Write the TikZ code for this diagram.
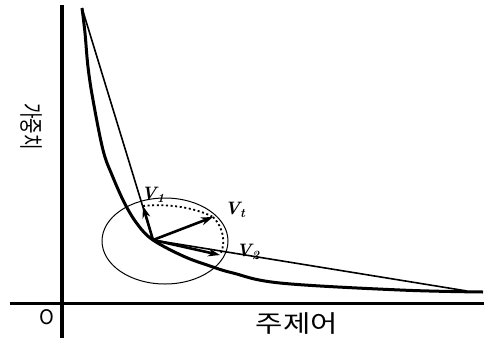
\documentclass[tikz,border=0pt]{standalone}
\usepackage{tikz}
\usetikzlibrary{positioning,arrows.meta}
\usepackage{fontspec}
\newfontfamily\kor{Noto Sans CJK KR}
\tikzset{
	axis/.style={line width=3pt},
	vec/.style={->,line width=2.6pt},
	vlabel/.style={font=\fontsize{18}{18}\selectfont\bfseries\itshape, inner sep=0pt}
}
\newcommand{\vname}[1]{V\textsubscript{#1}}
\begin{document}
\begin{tikzpicture}[>={Stealth[length=12pt,width=8pt]}, x=1pt, y=-1pt]
	\useasboundingbox (0,0) rectangle (487,338);
	% axes
	\coordinate (ytop) at (62,5);
	\coordinate (ybot) at (62,338);
	\coordinate (xl) at (10,303);
	\coordinate (xr) at (484,303);
	\draw[axis, line width=4pt] (ytop) -- (ybot);
	\draw[axis] (xl) -- (xr);
	\node[font=\kor\fontsize{20}{20}\selectfont, inner sep=0pt] (zero) at (46.5,317.5) {O};
	\node[font=\kor\fontsize{24}{24}\selectfont, inner sep=0pt, xscale=1.24] (xname) at (297,324) {주제어};
	\node[font=\kor\fontsize{24}{24}\selectfont, inner sep=0pt, rotate=-90, xscale=0.7] (yname) at (31.5,126.5) {가중치};

	% vectors
	\coordinate (o) at (153,240);
	\coordinate (v1) at (143,206);
	\coordinate (vt) at (213,217);
	\coordinate (v2) at (220,255);
	\coordinate (top) at (82,8);
	\coordinate (end) at (467,291);

	% curves
	\draw[line width=3pt, line join=round] plot[smooth, tension=0.6] coordinates {
		(top) (85,33) (88,67) (93,100) (103,150) (112,175) (125,204)
		(138,225) (153,240) (183,256) (210,266) (233,273) (280,283)
		(400,290) (483,292)};
	\draw[line width=1.6pt] (top) -- (o) -- (end);
	\draw[line width=1pt] (165,241) ellipse [x radius=63, y radius=43];

	\draw[line width=1.8pt, dash pattern=on 2pt off 2.6pt]
		(v1) .. controls (172,203) and (198,209) .. (vt);
	\draw[line width=1.8pt, dash pattern=on 2pt off 2.6pt]
		(vt) .. controls (224,228) and (226,244) .. (v2);

	\foreach \v in {v1,vt,v2}{
		\draw[vec] (o) -- (\v);
	}
	\node[vlabel] (l1) at (153,195) {\vname{1}};
	\node[vlabel] (lt) at (235,210) {\vname{t}};
	\node[vlabel] (l2) at (248,252) {\vname{2}};
\end{tikzpicture}
\end{document}
